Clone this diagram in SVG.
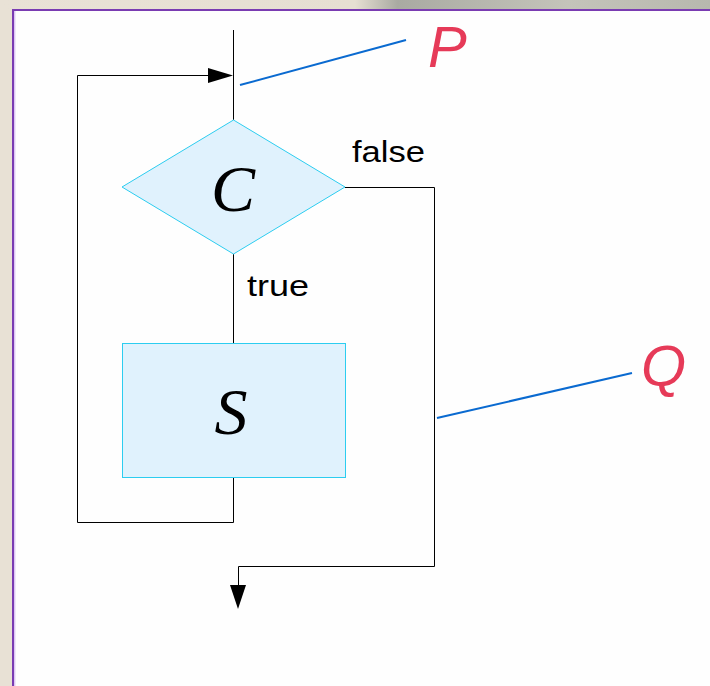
<svg xmlns="http://www.w3.org/2000/svg" width="710" height="686" viewBox="0 0 710 686">
  <defs>
    <linearGradient id="topband" x1="0" y1="0" x2="1" y2="0">
      <stop offset="0" stop-color="#e9e2d6"/>
      <stop offset="0.5" stop-color="#e6dfd2"/>
      <stop offset="0.56" stop-color="#a9aaa2"/>
      <stop offset="0.8" stop-color="#c4c4ba"/>
      <stop offset="1" stop-color="#b7b8ae"/>
    </linearGradient>
    <style>
      .flow { fill: none; stroke: #000; stroke-width: 1; }
      .head { fill: #000; }
      .shape { fill: #e0f2fd; stroke: #2ccdf0; stroke-width: 1; }
      .lead { fill: none; stroke: #0a6ad0; stroke-width: 2; }
      .sym { font-family: "Liberation Serif", "Times New Roman", serif; font-style: italic; font-size: 66px; fill: #000; text-anchor: middle; }
      .lbl { font-family: "Liberation Sans", Arial, sans-serif; font-size: 30px; fill: #000; }
      .tag { font-family: "Liberation Sans", Arial, sans-serif; font-style: italic; font-size: 58px; fill: #e63a58; }
    </style>
  </defs>

  <!-- page background and panel -->
  <rect x="0" y="0" width="710" height="686" fill="#e8e1d5"/>
  <rect x="0" y="0" width="710" height="10" fill="url(#topband)"/>
  <rect x="13" y="10" width="700" height="680" fill="#fefefe" stroke="#7a3cb2" stroke-width="2"/>
  <line x1="14.8" y1="11" x2="14.8" y2="686" stroke="#cfaef0" stroke-width="1"/>

  <!-- connectors -->
  <g id="connectors">
    <line class="flow" x1="233.5" y1="30" x2="233.5" y2="120"/>
    <line class="flow" x1="233.5" y1="254" x2="233.5" y2="343"/>
    <path class="flow" d="M233.5,477 V522.5 H77.5 V75.5 H210"/>
    <path class="head" d="M208,68 L233,75.5 L208,83 Z"/>
    <path class="flow" d="M345,187.5 H434.5 V566.5 H238.5 V586"/>
    <path class="head" d="M230,585 L246,585 L238,609 Z"/>
    <text class="lbl" x="352" y="162" textLength="73" lengthAdjust="spacingAndGlyphs">false</text>
    <text class="lbl" x="247" y="296" textLength="62" lengthAdjust="spacingAndGlyphs">true</text>
  </g>

  <!-- decision node -->
  <g id="node-C">
    <polygon class="shape" points="233.5,120 345,187 233.5,254 122,187"/>
    <text class="sym" x="233" y="211">C</text>
  </g>

  <!-- statement node -->
  <g id="node-S">
    <rect class="shape" x="122.5" y="343.5" width="223" height="134"/>
    <text class="sym" x="231" y="434">S</text>
  </g>

  <!-- callouts -->
  <g id="callout-P">
    <line class="lead" x1="240" y1="85" x2="406" y2="40"/>
    <text class="tag" x="428" y="67">P</text>
  </g>
  <g id="callout-Q">
    <line class="lead" x1="437" y1="418" x2="632" y2="373"/>
    <text class="tag" x="641" y="386">Q</text>
  </g>
</svg>
